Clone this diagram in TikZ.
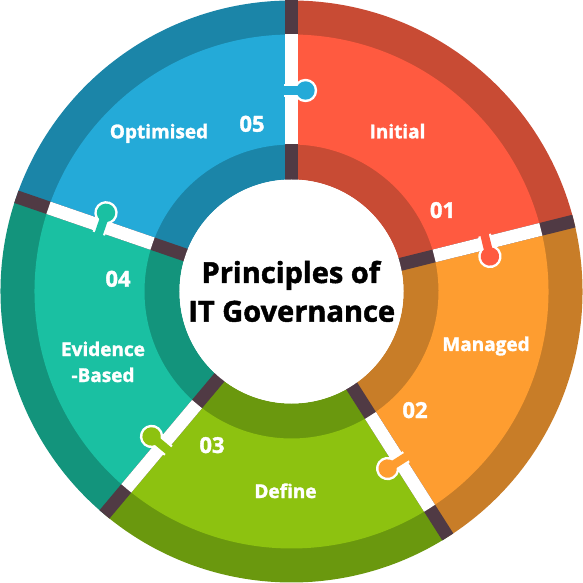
\documentclass[tikz,border=0pt]{standalone}
\usepackage{fontspec}
\setmainfont{Open Sans}[BoldFeatures={FakeBold=1.6}]
\definecolor{redL}{HTML}{FF5A40}
\definecolor{redD}{HTML}{C84B34}
\definecolor{orgL}{HTML}{FE9D30}
\definecolor{orgD}{HTML}{C87D28}
\definecolor{grnL}{HTML}{8DC210}
\definecolor{grnD}{HTML}{6A980E}
\definecolor{teaL}{HTML}{1AC0A2}
\definecolor{teaD}{HTML}{13947C}
\definecolor{bluL}{HTML}{24AAD8}
\definecolor{bluD}{HTML}{1B85A8}
\definecolor{gapD}{HTML}{503A44}
\newcommand\Ro{291}
\newcommand\Rm{257}
\newcommand\Ri{147}
\newcommand\Rw{112}
\newcommand\segfill[4]{%
  \fill[#3] (#1:\Rw) arc[start angle=#1,end angle=#2,radius=\Rw] -- (#2:\Ro) arc[start angle=#2,end angle=#1,radius=\Ro] -- cycle;
  \fill[#4] (#1:\Ri) arc[start angle=#1,end angle=#2,radius=\Ri] -- (#2:\Rm) arc[start angle=#2,end angle=#1,radius=\Rm] -- cycle;}
\newcommand\gapline[1]{%
  \draw[gapD,line width=13pt] (#1:\Rw-3) -- (#1:\Ro);
  \draw[white,line width=13pt] (#1:\Ri) -- (#1:\Rm);}
\newcommand\puzzletab[2]{%
  \begin{scope}[rotate=#1]
    \fill[white] (201,-14) circle (11.7);
    \fill[white] (194.5,8) rectangle (207.5,-14);
    \fill[#2] (201,-14) circle (9.2);
    \fill[#2] (196.75,10) rectangle (205.25,-14);
  \end{scope}}
\tikzset{lbl/.style={text=white,font=\bfseries\fontsize{19}{23}\selectfont,anchor=base,inner sep=0pt},
  num/.style={text=white,font=\bfseries\fontsize{22}{26}\selectfont,anchor=base,inner sep=0pt},
  ttl/.style={text=black,font=\bfseries\fontsize{29}{36}\selectfont,anchor=base,inner sep=0pt}}
\begin{document}
\begin{tikzpicture}[x=1pt,y=1pt]
\useasboundingbox (-291.5,-291.5) rectangle (291.5,291.5);
\segfill{14}{90}{redD}{redL}
\segfill{-57.5}{14}{orgD}{orgL}
\segfill{-130}{-57.5}{grnD}{grnL}
\segfill{-199}{-130}{teaD}{teaL}
\segfill{90}{161}{bluD}{bluL}
\gapline{90}
\gapline{14}
\gapline{-57.5}
\gapline{-130}
\gapline{161}
\puzzletab{90}{bluL}
\puzzletab{14}{redL}
\puzzletab{-57.5}{orgL}
\puzzletab{-130}{grnL}
\puzzletab{161}{teaL}
\fill[white] (0,0) circle (\Rw);
\node[lbl] (t1) at (106,153.2) {Initial};
\node[num] (n1) at (151,73.5) {01};
\node[lbl] (t2) at (194.5,-59.5) {Managed};
\node[num] (n2) at (123.5,-126.5) {02};
\node[lbl] (t3) at (-6,-206.5) {Define};
\node[num] (n3) at (-79.5,-161.5) {03};
\node[lbl] (t4a) at (-188.5,-64.5) {Evidence};
\node[lbl] (t4b) at (-188.5,-90.5) {-Based};
\node[num] (n4) at (-173.5,4.8) {04};
\node[lbl] (t5) at (-132.5,153.2) {Optimised};
\node[num] (n5) at (-39.5,159.8) {05};
\node[ttl] (c1) at (-0.7,8.5) {Principles of};
\node[ttl] (c2) at (0.2,-30.2) {IT Governance};
\end{tikzpicture}
\end{document}
